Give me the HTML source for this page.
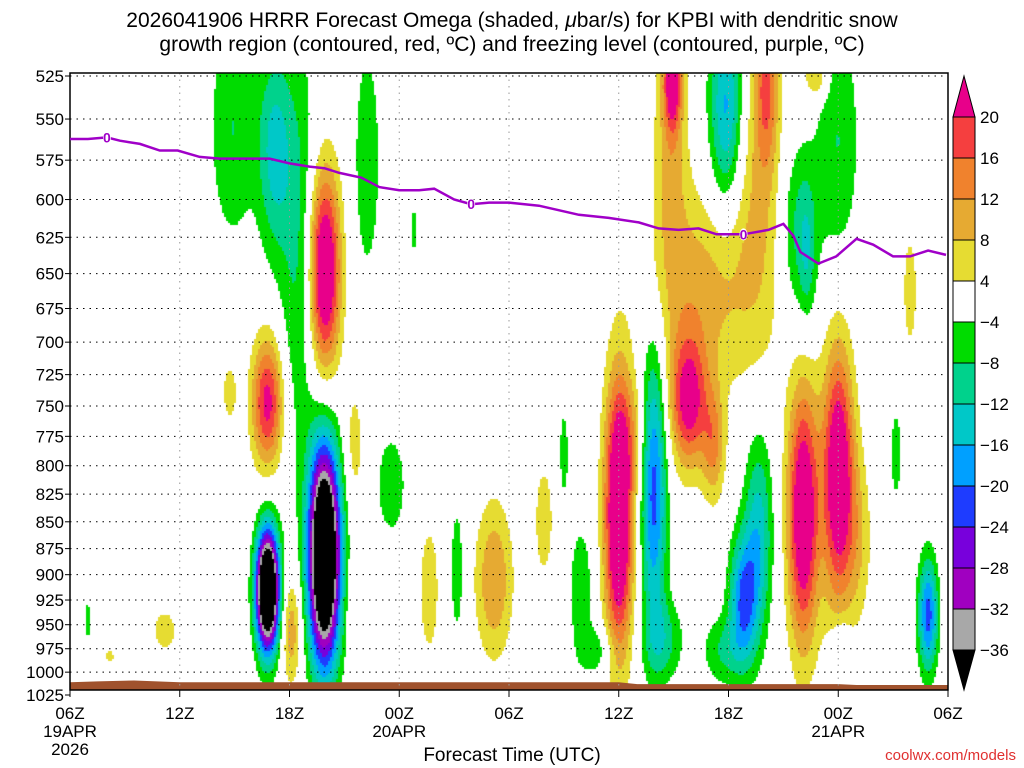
<!DOCTYPE html>
<html><head><meta charset="utf-8">
<style>
html,body{margin:0;padding:0;background:#fff;}
body{width:1024px;height:768px;position:relative;overflow:hidden;font-family:"Liberation Sans",sans-serif;}
.t{position:absolute;white-space:nowrap;color:#000;}
</style></head>
<body>
<div class="t" style="left:0;width:1024px;text-align:center;top:9px;font-size:21px;">2026041906 HRRR Forecast Omega (shaded, <i>μ</i>bar/s) for KPBI with dendritic snow</div>
<div class="t" style="left:0;width:1024px;text-align:center;top:33px;font-size:21px;">growth region (contoured, red, ºC) and freezing level (contoured, purple, ºC)</div>
<canvas id="field" width="878" height="617" style="position:absolute;left:70px;top:73px;"></canvas>
<svg id="svg" width="1024" height="768" style="position:absolute;left:0;top:0;"></svg>
<div class="t" style="left:0;width:1024px;text-align:center;top:745px;font-size:19px;">Forecast Time (UTC)</div>
<div class="t" style="right:8px;top:747px;font-size:15px;color:#e03030;">coolwx.com/models</div>
<script>
// ---- data ----
const yTicks=[525,550,575,600,625,650,675,700,725,750,775,800,825,850,875,900,925,950,975,1000,1025];
const xTickHours=[0,6,12,18,24,30,36,42,48];
const xTickLabels=["06Z","12Z","18Z","00Z","06Z","12Z","18Z","00Z","06Z"];
const xDateLabels=["19APR\n2026","","","20APR","","","","21APR",""];
const cbLevels=[20,16,12,8,4,-4,-8,-12,-16,-20,-24,-28,-32,-36];
const cbColors=["#e8008a","#f53f3f","#f0822d","#e6aa32","#e6dc32","#ffffff","#00dc00","#00d28c","#00c8c8","#00a0ff","#1e3cff","#7800dc","#a000c0","#a8a8a8","#000000"];
const blobHour=[10.8,13.91,12.55,11.18,8.9,13.91,10.8,8.73,16.25,12.11,15.55,15.55,17.56,19.64,21.16,23.18,25.91,27.93,28.8,30,31.91,32.45,33.82,35.18,34.36,37.64,32.84,32.95,35.89,38.07,39.82,42,40.09,42,36.82,37.64,35.73,45.16,45.93,46.91,42.16,0.98,2.18,5.18,18.82,43.09,40.8,30.82,27,40.3];
const blobP=[915,881,633,569,555,648,747,739,575,956,782,925,817,915,896,905,849,915,977,844,817,966,747,782,662,600,563,526,544,527,620,563,844,808,925,858,977,790,662,940,971,946,983,956,620,867,526,773,790,640];
const blobSigH=[.44,.6,.76,.65,.9,.6,.6,.33,.55,.38,.38,.27,.55,.44,.27,.71,.44,.44,.65,.55,.49,.76,.71,.44,1.91,1.09,.65,.33,.65,.44,.75,.82,.6,.6,.55,.55,.82,.27,.33,.38,.38,.16,.27,.65,.16,.55,.44,.65,.22,.3];
const blobSigLnP=[.045,.081,.162,.076,.09,.076,.049,.027,.097,.041,.049,.027,.038,.059,.054,.059,.054,.049,.019,.103,.108,.032,.049,.043,.076,.13,.097,.038,.076,.065,.07,.097,.097,.097,.049,.076,.027,.043,.054,.043,.019,.019,.009,.022,.022,.065,.016,.043,.043,.05];
const blobOmega=[-60,-60,-9,-13,-8,30,22,6,-7,11,6,5,-8,6.5,-7,12,6,-8,-7,32,-22,-9,22,12,10,8,9,22,-18,14,-10,-8,28,28,-20,-14,-8,-6,6,-22,-7,-6,5,5.5,-6,7,10,6,-6,-6];
const fzHour=[0,.98,2.02,2.73,3.82,4.91,5.89,7.09,8.18,10.91,12,13.09,13.91,14.73,15.93,16.91,18,19.09,19.91,21,21.93,22.91,24,25.64,27.82,29.45,31.09,32.18,33.27,34.36,35.35,36.82,38.18,39,39.55,39.93,40.91,41.89,43,43.91,45,45.93,46.91,47.89];
const fzP=[562,562,561,563,565,569,569,573,574,574,577,579,580,583,586,592,594,594,593,600,603,602,602,604,610,612,615,619,620,619,623,623,620,616,624,635,643,638,626,630,638,638,634,637];
const fzLabelHours=[2.02,21.93,36.82];
const groundHour=[0,1.5,3.5,6,12,30,31,42,43,48];
const groundP=[1022,1021,1020,1022,1022,1022,1024,1024,1025,1025];

// ---- axes ----
const X0=70,X1=948,Y0=76,Y1=695;
const lnTop=Math.log(525),lnBot=Math.log(1025);
const xS=h=>X0+h*(X1-X0)/48;
const yS=p=>Y0+(Math.log(p)-lnTop)/(lnBot-lnTop)*(Y1-Y0);
const pxPerLn=(Y1-Y0)/(lnBot-lnTop), pxPerH=(X1-X0)/48;

// ---- field ----
function colorFor(v){
  for(let i=0;i<cbLevels.length;i++){ if(v>=cbLevels[i]) return cbColors[i]; }
  return cbColors[cbColors.length-1];
}
const cv=document.getElementById('field');const ctx=cv.getContext('2d');
const bx=blobHour.map(xS), by=blobP.map(yS), bsx=blobSigH.map(s=>s*pxPerH), bsy=blobSigLnP.map(s=>s*pxPerLn);
const step=2;
for(let py=0;py<617;py+=step){
  const Y=73+py+step/2;
  for(let px=0;px<878;px+=step){
    const X=70+px+step/2;let v=0;
    for(let k=0;k<bx.length;k++){
      const dx=(X-bx[k])/bsx[k],dy=(Y-by[k])/bsy[k];const r=dx*dx+dy*dy;
      if(r<30) v+=blobOmega[k]*Math.exp(-0.5*r);
    }
    if(v>=4||v<-4){ctx.fillStyle=colorFor(v);ctx.fillRect(px,py,step,step);}
  }
}

// ---- svg ----
const svg=document.getElementById('svg');const NS='http://www.w3.org/2000/svg';
function mk(tag,attrs,parent){const e=document.createElementNS(NS,tag);for(const k in attrs)e.setAttribute(k,attrs[k]);(parent||svg).appendChild(e);return e;}
let gd='M'+xS(0)+' 690';
groundHour.forEach((h,i)=>{gd+=' L'+xS(h)+' '+(yS(groundP[i])-10);});
gd+=' L'+X1+' 690 Z';
const g=mk('path',{d:gd,fill:'#a0522d'});


yTicks.forEach(p=>{
  const y=yS(p);
  if(p<1025){const l=mk('line',{x1:X0,x2:X1,y1:y,y2:y,stroke:'#000','stroke-width':1,'stroke-dasharray':'1.5,5'});
  
  }
  const tk=mk('line',{x1:X0-5,x2:X0,y1:y,y2:y,stroke:'#000'});
  
  
  const t=mk('text',{x:X0-6,y:y+6,'text-anchor':'end','font-size':17,'font-family':'Liberation Sans, sans-serif'});t.textContent=p;
  
  
});
xTickHours.forEach((h,i)=>{
  const x=xS(h);
  if(i>0&&i<xTickHours.length-1){const l=mk('line',{x1:x,x2:x,y1:73,y2:690,stroke:'#999','stroke-width':1,'stroke-dasharray':'1.5,5'});
  
  }
  const tk=mk('line',{x1:x,x2:x,y1:690,y2:697,stroke:'#000'});
  
  
  const t=mk('text',{x:x,y:719,'text-anchor':'middle','font-size':17,'font-family':'Liberation Sans, sans-serif'});t.textContent=xTickLabels[i];
  
  
  xDateLabels[i].split('\n').forEach((s,j)=>{if(!s)return;
    const d=mk('text',{x:x,y:737+j*18,'text-anchor':'middle','font-size':17,'font-family':'Liberation Sans, sans-serif'});d.textContent=s;
    
    });
});
const fr=mk('rect',{x:X0,y:73,width:X1-X0,height:617,fill:'none',stroke:'#000','stroke-width':1.5});


const fzd=fzHour.map((h,i)=>(i?'L':'M')+xS(h).toFixed(1)+' '+yS(fzP[i]).toFixed(1)).join(' ');
const fz=mk('path',{d:fzd,fill:'none',stroke:'#a000c8','stroke-width':2.5});


fzLabelHours.forEach(h=>{
  let j=0;for(let i=0;i<fzHour.length;i++)if(Math.abs(fzHour[i]-h)<Math.abs(fzHour[j]-h))j=i;
  const c=mk('ellipse',{cx:xS(h),cy:yS(fzP[j]),rx:4,ry:6,fill:'#fff'});
  
  
  const t=mk('text',{x:xS(h),y:yS(fzP[j])+5,'text-anchor':'middle','font-size':14,'font-weight':'bold',fill:'#a000c8','font-family':'Liberation Sans, sans-serif'});t.textContent='0';
  
  
});
const CBX=953,CBW=22,cbTop=117,cbStep=41;
const up=mk('polygon',{points:`${CBX},${cbTop} ${CBX+CBW},${cbTop} ${CBX+CBW/2},76`,fill:cbColors[0],stroke:'#000'});


for(let i=1;i<cbColors.length-1;i++){
  const r=mk('rect',{x:CBX,y:cbTop+(i-1)*cbStep,width:CBW,height:cbStep,fill:cbColors[i],stroke:'#000'});
  
  
}
const cbBot=cbTop+(cbColors.length-2)*cbStep;
const dn=mk('polygon',{points:`${CBX},${cbBot} ${CBX+CBW},${cbBot} ${CBX+CBW/2},690`,fill:'#000',stroke:'#000'});


cbLevels.forEach((v,i)=>{
  const t=mk('text',{x:980,y:cbTop+i*cbStep+6,'font-size':17,'font-family':'Liberation Sans, sans-serif'});t.textContent=v<0?'\u2212'+(-v):v;
  
  
});
</script>
</body></html>
